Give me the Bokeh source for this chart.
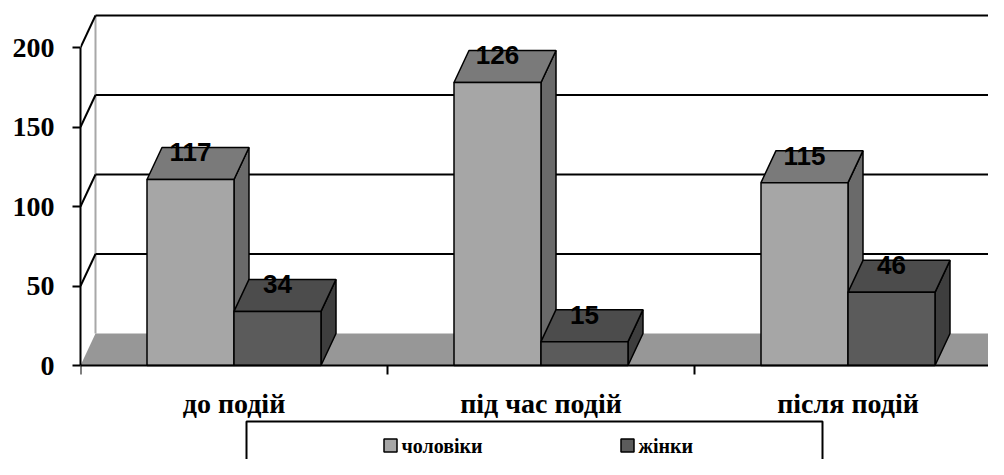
from bokeh.plotting import figure
from bokeh.models import Range1d, FixedTicker, ColumnDataSource
from bokeh.core.properties import value
from bokeh.embed import file_html
from bokeh.resources import INLINE

# ---- data ----
categories = ["до подій", "під час подій", "після подій"]
series_names = ["чоловіки", "жінки"]
men = [117, 178, 115]          # drawn bar heights
men_labels = ["117", "126", "115"]
women = [34, 15, 46]
women_labels = ["34", "15", "46"]
y_ticks = [0, 50, 100, 150, 200]

# ---- geometry / styles ----
PX_X = 307.0          # px per category
PX_Y = 1.59           # px per value unit
DX = 15 / PX_X        # depth offset (x)
DY = 32 / PX_Y        # depth offset (y)
BW = 87 / PX_X        # bar width
N = len(categories)
LEFT = 80             # frame left (px)
ZERO = 365            # y pixel of value 0

men_c = dict(front="#a6a6a6", top="#7a7a7a", side="#6a6a6a")
wom_c = dict(front="#5b5b5b", top="#4c4c4c", side="#3e3e3e")
floor_c = "#979797"

W, H = 988, 459
p = figure(width=W, height=H, output_backend="svg", toolbar_location=None,
           x_range=Range1d(0, (W - LEFT) / PX_X),
           y_range=Range1d(-(H - ZERO) / PX_Y, ZERO / PX_Y),
           x_axis_location=None, y_axis_location="left")
p.min_border = 0
p.min_border_left = LEFT
p.outline_line_color = None
p.xgrid.visible = False
p.ygrid.visible = False
p.background_fill_color = "white"
p.border_fill_color = "white"

ya = p.yaxis[0]
ya.ticker = FixedTicker(ticks=y_ticks, minor_ticks=[])
ya.bounds = (0, 200)
ya.axis_line_width = 2
ya.axis_line_color = "black"
ya.major_tick_line_width = 2
ya.major_tick_line_color = "black"
ya.major_tick_out = 8
ya.major_tick_in = 0
ya.minor_tick_out = 0
ya.minor_tick_in = 0
ya.major_label_standoff = 18
ya.major_label_text_font = "Liberation Serif"
ya.major_label_text_font_style = "bold"
ya.major_label_text_font_size = "28px"
ya.major_label_text_color = "black"


def px_x(px):
    return (px - LEFT) / PX_X


def px_y(py):
    return (ZERO - py) / PX_Y


ymax_wall = max(y_ticks)

# back wall left edge (gray)
p.segment(x0=[DX], y0=[DY], x1=[DX], y1=[ymax_wall + DY], line_color="#a8a8a8", line_width=2)

# gridlines on back wall + slants on left wall
gl = y_ticks[1:]
p.segment(x0=[DX] * len(gl), y0=[v + DY for v in gl], x1=[N + DX + 0.2] * len(gl),
          y1=[v + DY for v in gl], line_color="black", line_width=2)
p.segment(x0=[0] * len(gl), y0=gl, x1=[DX] * len(gl), y1=[v + DY for v in gl],
          line_color="black", line_width=2)

# floor
p.patch(x=[0, N, N + DX, DX], y=[0, 0, DY, DY], fill_color=floor_c, line_color=None)


def bar_shapes(lefts, rights, vals):
    tops = dict(xs=[], ys=[])
    sides = dict(xs=[], ys=[])
    for l, r, v in zip(lefts, rights, vals):
        tops["xs"].append([l, r, r + DX, l + DX])
        tops["ys"].append([v, v, v + DY, v + DY])
        sides["xs"].append([r, r + DX, r + DX, r])
        sides["ys"].append([0, DY, v + DY, v])
    return tops, sides


centers = [i + 0.5 for i in range(N)]
series = [
    ([c - BW for c in centers], centers, men, men_labels, men_c),
    (centers, [c + BW for c in centers], women, women_labels, wom_c),
]
for lefts, rights, vals, labs, col in series:
    tops, sides = bar_shapes(lefts, rights, vals)
    p.patches(xs=sides["xs"], ys=sides["ys"], fill_color=col["side"], line_color="black", line_width=1.5)
    p.patches(xs=tops["xs"], ys=tops["ys"], fill_color=col["top"], line_color="black", line_width=1.5)
    p.quad(left=lefts, right=rights, bottom=[0] * N, top=vals, fill_color=col["front"],
           line_color="black", line_width=1.5)

for lefts, rights, vals, labs, col in series:
    src = ColumnDataSource(dict(x=[(l + r) / 2 for l, r in zip(lefts, rights)],
                                y=[v + 27 / PX_Y for v in vals], t=labs))
    p.text(x="x", y="y", text="t", source=src, text_align="center", text_baseline="middle",
           text_font=value("Liberation Sans"), text_font_style="bold", text_font_size="26px",
           text_color="black")

# front x axis line and category boundary ticks
p.segment(x0=[0], y0=[0], x1=[N], y1=[0], line_color="black", line_width=2)
bounds_x = list(range(N + 1))
p.segment(x0=bounds_x, y0=[0] * len(bounds_x), x1=bounds_x, y1=[-9 / PX_Y] * len(bounds_x),
          line_color="black", line_width=2)

# category labels
p.text(x=centers, y=[px_y(403)] * N, text=categories, text_align="center", text_baseline="middle",
       text_font=value("Liberation Serif"), text_font_style="bold", text_font_size="28px",
       text_color="black")

# legend (box runs past the bottom edge, as in the reference)
ltop = px_y(421)
p.quad(left=[px_x(246)], right=[px_x(822)], top=[ltop], bottom=[ltop - 80], fill_color=None,
       line_color="black", line_width=2)
leg_y = px_y(445)
p.scatter(x=[px_x(390), px_x(627)], y=[leg_y, leg_y], marker="square", size=13,
          fill_color=[men_c["front"], wom_c["front"]], line_color="black", line_width=1.5)
p.text(x=[px_x(401), px_x(638)], y=[leg_y, leg_y], text=series_names,
       text_align="left", text_baseline="middle", text_font=value("Liberation Serif"),
       text_font_style="bold", text_font_size="20px", text_color="black")

open("out.html", "w").write(file_html(p, INLINE))
